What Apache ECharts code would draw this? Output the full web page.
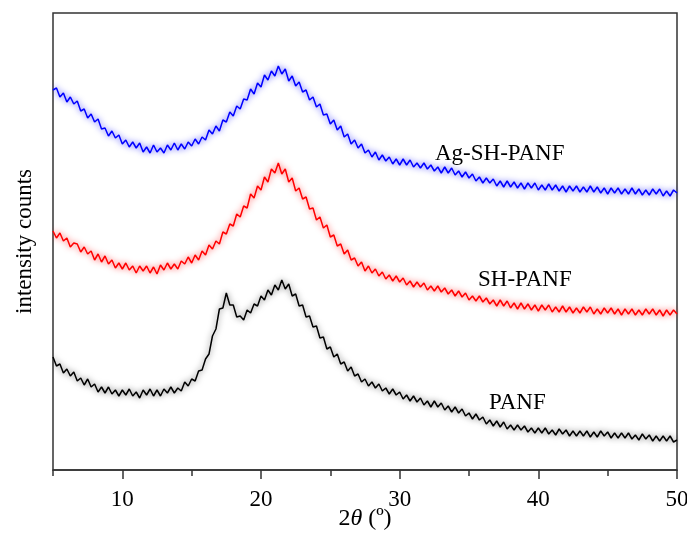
<!DOCTYPE html>
<html>
<head>
<meta charset="utf-8">
<script src="https://cdn.jsdelivr.net/npm/echarts@6/dist/echarts.min.js"></script>
<style>
html,body{margin:0;padding:0;background:#fff;}
#chart{width:687px;height:533px;}
</style>
</head>
<body>
<div id="chart"></div>
<script>
// 2θ scan grid (degrees)
const twoThetaStart = 5;
const twoThetaStep = 0.25;

// intensity counts (arbitrary units), one value per scan step
const agShPanf = [
380,382,373,377, 368,373,366,369, 359,361,352,356, 348,351,341,342, 334,339,332,335,
326,330,323,328, 322,327,318,323, 317,325,318,322, 317,325,320,327, 320,326,321,328,
324,331,326,333, 330,340,336,344, 339,350,348,358, 354,364,361,371, 370,381,376,387,
383,395,390,399, 394,404,396,401, 389,394,384,388, 378,380,370,373, 363,366,355,356,
346,350,340,344, 333,336,326,330, 322,326,317,320, 313,318,310,315, 309,313,306,311,
305,311,305,310, 303,307,302,307, 301,305,299,303, 297,303,297,302, 295,299,293,298,
292,296,289,293, 287,292,287,291, 284,289,283,289, 283,288,282,287, 281,287,282,287,
280,285,280,286, 280,285,279,284, 278,284,279,284, 278,283,278,284, 278,283,277,282,
276,282,277,282, 276,281,276,282, 276,281,275,280, 275,281,276,281, 274,279,274,280,
277];

const shPanf = [
239,232,237,229, 232,223,227,226, 218,223,216,219, 210,216,208,214, 206,210,202,207,
201,207,200,204, 197,204,199,204, 197,203,196,205, 200,207,201,206, 201,209,206,213,
207,215,210,219, 215,225,221,229, 226,238,236,246, 244,256,253,264, 262,276,272,284,
280,293,288,301, 297,307,296,301, 288,292,279,282, 271,273,261,262, 250,253,242,245,
233,235,224,226, 216,220,210,212, 204,208,199,204, 197,201,194,198, 191,195,189,194,
188,192,185,189, 183,188,183,187, 180,184,179,184, 178,182,176,180, 174,179,173,177,
170,174,169,174, 168,172,166,170, 164,170,164,169, 162,167,161,167, 161,166,160,165,
159,165,160,165, 158,163,158,164, 158,163,157,162, 157,163,158,163, 156,161,156,162,
157,162,156,161, 155,161,156,161, 155,160,155,161, 156,161,155,160, 154,160,155,160,
156];

const panf = [
113,104,106,97, 101,94,98,89, 92,85,91,83, 86,78,83,77, 83,76,80,74,
80,75,81,74, 78,72,80,75, 81,74,80,74, 81,77,83,77, 82,79,88,84,
91,89,99,100, 111,116,134,141, 161,162,177,165, 165,153,154,150, 160,157,166,164,
174,170,180,175, 185,180,190,181, 186,174,176,164, 165,153,154,143, 144,132,133,121,
123,113,116,106, 108,99,103,94, 96,88,91,84, 88,82,86,79, 82,76,81,75,
78,71,75,69, 74,68,72,65, 69,63,69,63, 67,60,64,58, 63,57,61,54,
57,51,56,50, 53,46,50,44, 49,43,48,41, 45,40,45,40, 44,38,42,37,
42,37,42,36, 40,35,41,36, 40,34,39,34, 39,34,39,33, 38,33,39,34,
38,32,37,32, 37,32,37,31, 35,30,36,31, 35,29,34,29, 34,29,34,28,
30];

const seriesNames = ['Ag-SH-PANF', 'SH-PANF', 'PANF'];
const seriesColors = ['#0000ff', '#ff0000', '#000000'];
const seriesGlow = ['rgba(0,0,255,0.75)', 'rgba(255,0,0,0.75)', 'rgba(0,0,0,0.6)'];
const seriesValues = [agShPanf, shPanf, panf];

const xMajorTicks = [10, 20, 30, 40, 50];
const xMinorTicks = [5, 15, 25, 35, 45];

const serif = '"Liberation Serif", "Times New Roman", serif';
const axisColor = '#333';

const chart = echarts.init(document.getElementById('chart'), null, {renderer: 'canvas'});

const series = seriesValues.map((vals, k) => ({
  name: seriesNames[k],
  type: 'line',
  data: vals.map((v, i) => [twoThetaStart + i * twoThetaStep, v]),
  showSymbol: false,
  symbol: 'none',
  lineStyle: {color: seriesColors[k], width: 1.5, shadowColor: seriesGlow[k], shadowBlur: 6},
  animation: false,
  silent: true
}));

chart.setOption({
  animation: false,
  grid: {
    left: 53, right: 10, top: 13, bottom: 63,
    show: true, borderColor: axisColor, borderWidth: 1.5,
    outerBoundsMode: 'none'
  },
  xAxis: [{
    type: 'value', min: 5, max: 50, interval: 5,
    axisLine: {show: true, lineStyle: {color: axisColor, width: 1.5}},
    axisTick: {show: true, customValues: xMajorTicks, length: 9, lineStyle: {color: axisColor, width: 1.5}},
    axisLabel: {customValues: xMajorTicks, fontSize: 23, fontFamily: serif, color: '#000', margin: 18},
    splitLine: {show: false},
    name: '{n|2}{t|θ}{n| (º)}',
    nameLocation: 'middle',
    nameMoveOverlap: false,
    nameGap: 37,
    nameTextStyle: {
      rich: {
        n: {fontSize: 24, fontFamily: serif, color: '#000'},
        t: {fontSize: 24, fontFamily: serif, fontStyle: 'italic', color: '#000'}
      }
    }
  }, {
    type: 'value', min: 5, max: 50, interval: 5, position: 'bottom',
    axisLine: {show: false},
    axisTick: {show: true, customValues: xMinorTicks, length: 6, lineStyle: {color: axisColor, width: 1.5}},
    axisLabel: {show: false},
    splitLine: {show: false}
  }],
  yAxis: {
    type: 'value', min: 0, max: 457,
    axisLine: {show: false},
    axisTick: {show: false},
    axisLabel: {show: false},
    splitLine: {show: false},
    name: 'intensity counts',
    nameLocation: 'middle',
    nameMoveOverlap: false,
    nameRotate: 90,
    nameGap: 17,
    nameTextStyle: {fontSize: 23, fontFamily: serif, color: '#000'}
  },
  graphic: [
    {type: 'text', left: 435, top: 142, style: {text: seriesNames[0], font: '23px ' + serif, fill: '#000'}},
    {type: 'text', left: 478, top: 268, style: {text: seriesNames[1], font: '23px ' + serif, fill: '#000'}},
    {type: 'text', left: 489, top: 391, style: {text: seriesNames[2], font: '23px ' + serif, fill: '#000'}}
  ],
  series: series
});
</script>
</body>
</html>
